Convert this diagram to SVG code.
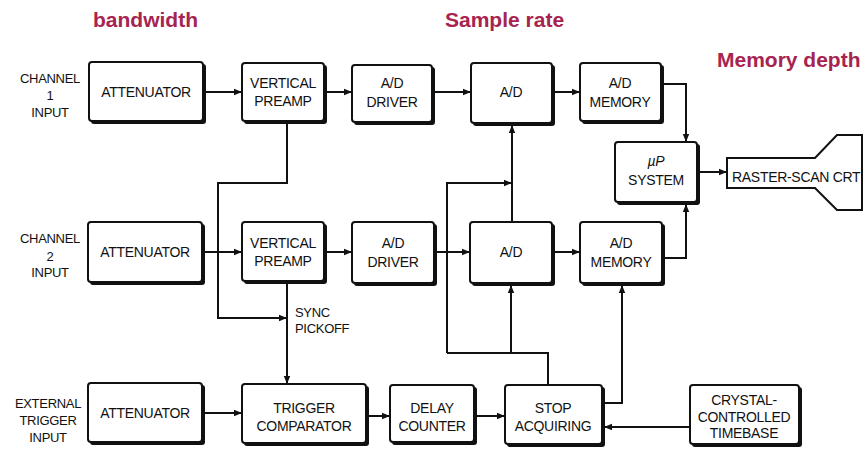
<svg xmlns="http://www.w3.org/2000/svg" width="865" height="449" viewBox="0 0 865 449">
<defs>
<marker id="arr" viewBox="0 0 10 10" refX="10" refY="5" markerWidth="4" markerHeight="4" orient="auto" markerUnits="strokeWidth">
<path d="M0,1 L10,5 L0,9 z" fill="#111"/>
</marker>
</defs>
<style>
.sh{fill:#111}
.bx{fill:#fff;stroke:#111;stroke-width:2}
.t{font-family:"Liberation Sans",Arial,sans-serif;font-size:14px;fill:#111;text-anchor:middle;letter-spacing:-0.3px}
.l{font-family:"Liberation Sans",Arial,sans-serif;font-size:13px;fill:#111;text-anchor:middle;letter-spacing:-0.3px}
.h{font-family:"Liberation Sans",Arial,sans-serif;font-size:21px;font-weight:bold;fill:#a6244f}
.c{fill:none;stroke:#111;stroke-width:2}
.a{marker-end:url(#arr)}
</style>
<rect width="865" height="449" fill="#fff"/>

<text class="h" x="93" y="27">bandwidth</text>
<text class="h" x="445" y="27">Sample rate</text>
<text class="h" x="717" y="67">Memory depth</text>

<g id="labels">
<text class="l" x="50" y="83">CHANNEL</text>
<text class="l" x="50" y="100">1</text>
<text class="l" x="50" y="117">INPUT</text>
<text class="l" x="50" y="243">CHANNEL</text>
<text class="l" x="50" y="261">2</text>
<text class="l" x="50" y="277">INPUT</text>
<text class="l" x="48" y="408">EXTERNAL</text>
<text class="l" x="48" y="425">TRIGGER</text>
<text class="l" x="48" y="442">INPUT</text>
<text class="l" x="295" y="317" style="text-anchor:start">SYNC</text>
<text class="l" x="295" y="333" style="text-anchor:start">PICKOFF</text>
</g>

<g id="connectors">
<path class="c a" d="M205,92 H242"/>
<path class="c a" d="M325,92 H352"/>
<path class="c a" d="M433,92 H471"/>
<path class="c a" d="M553,92 H580"/>
<path class="c a" d="M663,84 H686 V142"/>
<path class="c a" d="M698,172 H727"/>
<path class="c a" d="M663,258 H686 V204"/>
<path class="c a" d="M203,252 H242"/>
<path class="c a" d="M325,252 H352"/>
<path class="c a" d="M435,252 H470"/>
<path class="c a" d="M553,252 H580"/>
<path class="c a" d="M287,123 V183 H218 V318 H287"/>
<path class="c a" d="M287,283 V384"/>
<path class="c a" d="M512,222 V125"/>
<path class="c a" d="M447,353 V183 H512"/>
<path class="c" d="M447,353 H548 V385"/>
<path class="c a" d="M511,353 V285"/>
<path class="c a" d="M603,403 H622 V285"/>
<path class="c a" d="M690,427 H604"/>
<path class="c a" d="M203,413 H242"/>
<path class="c a" d="M367,416 H390"/>
<path class="c a" d="M475,416 H505"/>
</g>

<g id="att1"><rect class="sh" x="91" y="64" width="115" height="60" rx="3"/><rect class="bx" x="89" y="62" width="114" height="59" rx="3"/><text class="t" x="146" y="97">ATTENUATOR</text></g>
<g id="vp1"><rect class="sh" x="244" y="65" width="83" height="59" rx="3"/><rect class="bx" x="242" y="63" width="82" height="58" rx="3"/><text class="t" x="283" y="88">VERTICAL</text><text class="t" x="283" y="106">PREAMP</text></g>
<g id="add1"><rect class="sh" x="354" y="67" width="81" height="58" rx="3"/><rect class="bx" x="352" y="65" width="80" height="57" rx="3"/><text class="t" x="392" y="88">A/D</text><text class="t" x="392" y="107">DRIVER</text></g>
<g id="ad1"><rect class="sh" x="473" y="65" width="82" height="61" rx="3"/><rect class="bx" x="471" y="63" width="81" height="60" rx="3"/><text class="t" x="511" y="97">A/D</text></g>
<g id="adm1"><rect class="sh" x="582" y="65" width="82" height="59" rx="3"/><rect class="bx" x="580" y="63" width="81" height="58" rx="3"/><text class="t" x="620" y="88">A/D</text><text class="t" x="620" y="107">MEMORY</text></g>
<g id="up"><rect class="sh" x="617" y="144" width="83" height="61" rx="3"/><rect class="bx" x="615" y="142" width="82" height="60" rx="3"/><text class="t" x="656" y="166" style="font-style:italic">µP</text><text class="t" x="656" y="185">SYSTEM</text></g>
<g id="crt"><path class="bx" d="M727,158 H815 L837,135 H862 V210 H837 L815,188 H727 Z"/><text class="t" x="732" y="182" style="text-anchor:start">RASTER-SCAN CRT</text></g>

<g id="att2"><rect class="sh" x="90" y="224" width="115" height="61" rx="3"/><rect class="bx" x="88" y="222" width="114" height="60" rx="3"/><text class="t" x="145" y="257">ATTENUATOR</text></g>
<g id="vp2"><rect class="sh" x="244" y="224" width="83" height="60" rx="3"/><rect class="bx" x="242" y="222" width="82" height="59" rx="3"/><text class="t" x="283" y="248">VERTICAL</text><text class="t" x="283" y="266">PREAMP</text></g>
<g id="add2"><rect class="sh" x="354" y="224" width="83" height="62" rx="3"/><rect class="bx" x="352" y="222" width="82" height="61" rx="3"/><text class="t" x="393" y="248">A/D</text><text class="t" x="393" y="267">DRIVER</text></g>
<g id="ad2"><rect class="sh" x="472" y="224" width="83" height="62" rx="3"/><rect class="bx" x="470" y="222" width="82" height="61" rx="3"/><text class="t" x="511" y="257">A/D</text></g>
<g id="adm2"><rect class="sh" x="582" y="224" width="83" height="62" rx="3"/><rect class="bx" x="580" y="222" width="82" height="61" rx="3"/><text class="t" x="621" y="248">A/D</text><text class="t" x="621" y="267">MEMORY</text></g>

<g id="att3"><rect class="sh" x="90" y="385" width="115" height="60" rx="3"/><rect class="bx" x="88" y="383" width="114" height="59" rx="3"/><text class="t" x="145" y="418">ATTENUATOR</text></g>
<g id="tc"><rect class="sh" x="244" y="386" width="125" height="60" rx="3"/><rect class="bx" x="242" y="384" width="124" height="59" rx="3"/><text class="t" x="304" y="413">TRIGGER</text><text class="t" x="304" y="431">COMPARATOR</text></g>
<g id="dc"><rect class="sh" x="392" y="387" width="85" height="58" rx="3"/><rect class="bx" x="390" y="385" width="84" height="57" rx="3"/><text class="t" x="432" y="413">DELAY</text><text class="t" x="432" y="431">COUNTER</text></g>
<g id="sa"><rect class="sh" x="507" y="387" width="98" height="60" rx="3"/><rect class="bx" x="505" y="385" width="97" height="59" rx="3"/><text class="t" x="553" y="413">STOP</text><text class="t" x="553" y="431">ACQUIRING</text></g>
<g id="xtal"><rect class="sh" x="692" y="387" width="110" height="60" rx="3"/><rect class="bx" x="690" y="385" width="109" height="59" rx="3"/><text class="t" x="744" y="405">CRYSTAL-</text><text class="t" x="744" y="422">CONTROLLED</text><text class="t" x="744" y="438">TIMEBASE</text></g>
</svg>
